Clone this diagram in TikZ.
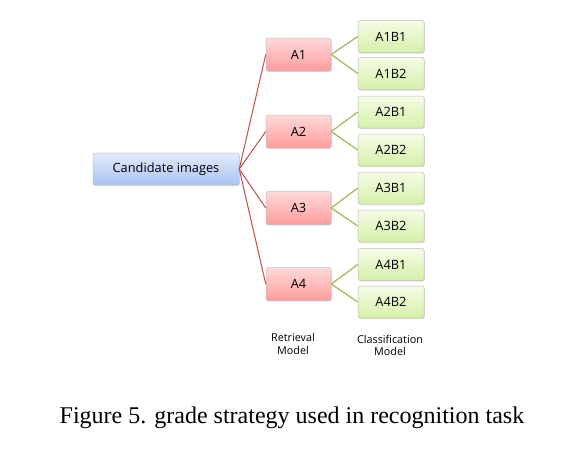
\documentclass[tikz,border=0pt]{standalone}
\usepackage{fontspec}
\setmainfont{Liberation Serif}
\newfontfamily\boxfont{Open Sans}
\usetikzlibrary{shadows}
\definecolor{blueTop}{HTML}{E2EBFC}
\definecolor{blueBot}{HTML}{A9C3F2}
\definecolor{redTop}{HTML}{FFD9D9}
\definecolor{redBot}{HTML}{FF9C9C}
\definecolor{greenTop}{HTML}{F5FCE6}
\definecolor{greenBot}{HTML}{D5F0A8}
\definecolor{redLine}{HTML}{C0504D}
\definecolor{greenLine}{HTML}{9BBB59}
\definecolor{boxEdge}{HTML}{BFBFBF}
\tikzset{
  base/.style={rounded corners=2pt, draw=boxEdge, line width=0.5pt, font=\boxfont\fontsize{12.8}{15}\selectfont,
    drop shadow={shadow xshift=0.8pt, shadow yshift=-1pt, opacity=0.25}},
  candbox/.style={base, top color=blueTop, bottom color=blueBot, minimum width=146pt, minimum height=32pt},
  abox/.style={base, top color=redTop, bottom color=redBot, minimum width=65pt, minimum height=33pt},
  bbox/.style={base, top color=greenTop, bottom color=greenBot, minimum width=66pt, minimum height=32pt},
  rline/.style={draw=redLine, line width=1pt},
  gline/.style={draw=greenLine, line width=1.2pt},
  lab/.style={font=\boxfont\fontsize{10.8}{12.5}\selectfont, align=center}
}
\begin{document}
\begin{tikzpicture}[x=1pt,y=-1pt]
\useasboundingbox[fill=white] (0,0) rectangle (579,467);
\node[candbox] (c) at (166,169) {Candidate images};
\node[abox] (a1) at (298.5,54.5) {A1};
\node[abox] (a2) at (298.5,131.5) {A2};
\node[abox] (a3) at (298.5,208) {A3};
\node[abox] (a4) at (298.5,284) {A4};
\node[bbox] (b11) at (391,36.5) {A1B1};
\node[bbox] (b12) at (391,73.5) {A1B2};
\node[bbox] (b21) at (391,112) {A2B1};
\node[bbox] (b22) at (391,150) {A2B2};
\node[bbox] (b31) at (391,188) {A3B1};
\node[bbox] (b32) at (391,226) {A3B2};
\node[bbox] (b41) at (391,264.5) {A4B1};
\node[bbox] (b42) at (391,302) {A4B2};
\foreach \a in {a1,a2,a3,a4} \draw[rline] (c.east) -- (\a.west);
\foreach \a/\b in {a1/b11,a1/b12,a2/b21,a2/b22,a3/b31,a3/b32,a4/b41,a4/b42} \draw[gline] (\a.east) -- (\b.west);
\node[lab] (l1) at (293,344) {Retrieval\\Model};
\node[lab] (l2) at (390,345.5) {Classification\\Model};
\node[font=\fontsize{24}{28}\selectfont] (cap) at (292,418) {Figure 5. grade strategy used in recognition task};
\end{tikzpicture}
\end{document}
